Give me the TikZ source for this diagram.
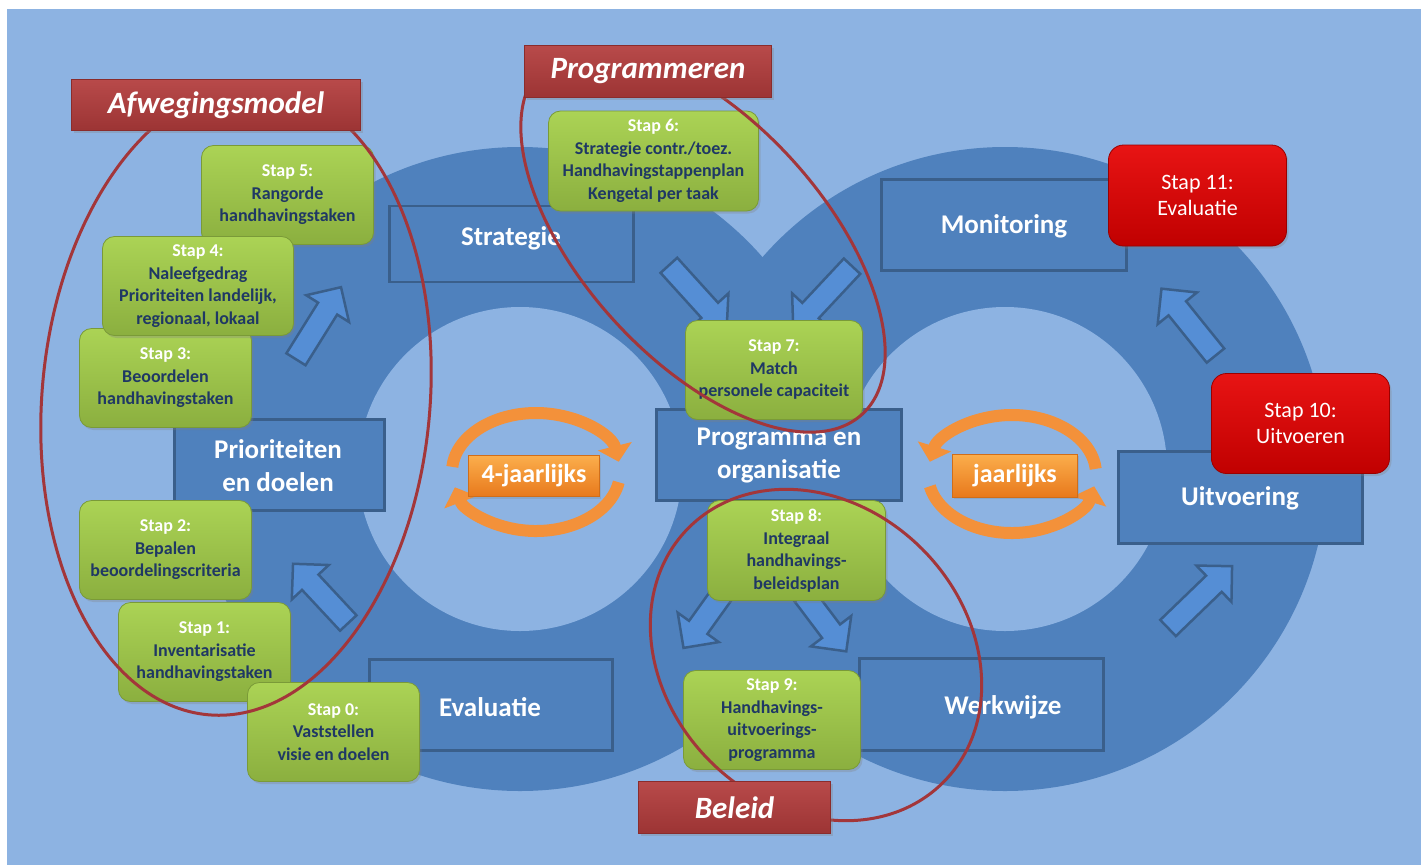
\documentclass[tikz,border=0pt]{standalone}
\usepackage{fontspec}
\setmainfont{Carlito}
\usetikzlibrary{shapes.arrows,shadows,arrows.meta}
\definecolor{bglight}{HTML}{8DB3E2}
\definecolor{ringblue}{HTML}{4F81BD}
\definecolor{boxborder}{HTML}{3A5F8B}
\definecolor{arrowfill}{HTML}{558ED5}
\definecolor{greentop}{HTML}{ABD355}
\definecolor{greenbot}{HTML}{8BAF3F}
\definecolor{greenline}{HTML}{7A9A38}
\definecolor{navytext}{HTML}{1F3864}
\definecolor{redtop}{HTML}{E81414}
\definecolor{redbot}{HTML}{C00000}
\definecolor{redline}{HTML}{9A0000}
\definecolor{labeltop}{HTML}{B84A4A}
\definecolor{labelbot}{HTML}{9C3434}
\definecolor{labelline}{HTML}{8A2C2C}
\definecolor{ellred}{HTML}{A3363A}
\definecolor{orangering}{HTML}{F3913A}
\definecolor{orangetop}{HTML}{FBAE4C}
\definecolor{orangebot}{HTML}{E8791C}
\definecolor{orangeline}{HTML}{D06E1A}
\newcommand\steplabel[1]{\textcolor{white}{#1}}
\tikzset{
  bluebox/.style={draw=boxborder, line width=2.5pt, fill=ringblue, inner sep=0pt},
  bluetext/.style={text=white, font=\bfseries\fontsize{27}{33}\selectfont, align=center, inner sep=0pt},
  greenbox/.style={rounded corners=12pt, draw=greenline, line width=0.8pt, top color=greentop, bottom color=greenbot,
    align=center, font=\bfseries\fontsize{18}{22.5}\selectfont, text=navytext, inner sep=0pt,
    drop shadow={opacity=0.3, shadow xshift=2pt, shadow yshift=-2.5pt}},
  redbox/.style={rounded corners=15pt, draw=redline, line width=0.8pt, top color=redtop, bottom color=redbot,
    align=center, font=\fontsize{22}{26.5}\selectfont, text=white, inner sep=0pt,
    drop shadow={opacity=0.3, shadow xshift=2pt, shadow yshift=-2.5pt}},
  labelbox/.style={draw=labelline, line width=1pt, top color=labeltop, bottom color=labelbot, text=white,
    font=\bfseries\itshape\fontsize{31}{36}\selectfont, inner sep=0pt,
    drop shadow={opacity=0.3, shadow xshift=2pt, shadow yshift=-2.5pt}},
  orangelabel/.style={draw=orangeline, line width=0.8pt, top color=orangetop, bottom color=orangebot, text=white,
    font=\bfseries\fontsize{26}{30}\selectfont, inner sep=0pt,
    drop shadow={opacity=0.25, shadow xshift=1.5pt, shadow yshift=-2pt}},
  orangearc/.style={draw=orangering, line width=12pt, -{Triangle[width=34pt,length=16pt]}},
  blockarr/.style={single arrow, draw=boxborder, fill=arrowfill, line width=2.5pt,
    inner xsep=0pt, inner ysep=10pt, single arrow head extend=14pt},
  ellline/.style={draw=ellred, line width=3pt}
}
\begin{document}
\begin{tikzpicture}[x=1pt,y=-1pt]
\useasboundingbox (0,0) rectangle (1421,865);
\fill[white] (0,0) rectangle (1421,865);
\fill[bglight] (7,9) rectangle (1421,865);
% figure-eight rings
\fill[ringblue] (520,469) circle [radius=322];
\fill[ringblue] (1005,469) circle [radius=322];
\fill[bglight] (520,469) circle [radius=162];
\fill[bglight] (1005,469) circle [radius=162];
% orange cycles
\draw[orangearc] (536,472) ++(185:84 and 59) arc[start angle=185, end angle=350, x radius=84, y radius=59];
\draw[orangearc] (536,472) ++(10:84 and 59) arc[start angle=10, end angle=165, x radius=84, y radius=59];
\node[orangelabel, minimum width=131pt, minimum height=41pt] (l4) at (534,476) {4-jaarlijks};
\draw[orangearc] (1012,474) ++(355:84 and 59) arc[start angle=355, end angle=192, x radius=84, y radius=59];
\draw[orangearc] (1012,474) ++(168:84 and 59) arc[start angle=168, end angle=12, x radius=84, y radius=59];
\node[orangelabel, minimum width=125pt, minimum height=43pt] (l1) at (1015,475.5) {jaarlijks};
% blue block arrows
\node[blockarr, minimum height=85pt, rotate=58] (a1) at (315.5,328) {};
\node[blockarr, minimum height=81pt, rotate=133] (a2) at (324.5,597.5) {};
\node[blockarr, minimum height=86pt, rotate=-47.8] (a3) at (694,293) {};
\node[blockarr, minimum height=86pt, rotate=-133.1] (a4) at (826.5,293.5) {};
\node[blockarr, minimum height=66pt, rotate=-125.6] (a5) at (706,616.5) {};
\node[blockarr, minimum height=71pt, rotate=-53] (a6) at (821.5,618.5) {};
\node[blockarr, minimum height=86pt, rotate=128.9] (a7) at (1192,326.5) {};
\node[blockarr, minimum height=89pt, rotate=44] (a8) at (1196,601) {};
% blue boxes
\node[bluebox, minimum width=244pt, minimum height=76pt] (strat) at (511.5,244) {};
\node[bluetext] (stratT) at (511,238) {Strategie};
\node[bluebox, minimum width=245pt, minimum height=91pt] (monit) at (1004,225) {};
\node[bluetext] (monitT) at (1004,226) {Monitoring};
\node[bluebox, minimum width=210pt, minimum height=91pt] (prio) at (279.5,465) {};
\node[bluetext] (prioT) at (278,466) {Prioriteiten\\en doelen};
\node[bluebox, minimum width=245pt, minimum height=91pt] (prog) at (779,455) {};
\node[bluetext] (progT) at (779,456) {Programma en\\organisatie};
\node[bluebox, minimum width=244pt, minimum height=92pt] (uitv) at (1240.5,497.5) {};
\node[bluetext] (uitvT) at (1240,498) {Uitvoering};
\node[bluebox, minimum width=243pt, minimum height=91pt] (eval) at (491,705) {};
\node[bluetext] (evalT) at (490,707) {Evaluatie};
\node[bluebox, minimum width=244pt, minimum height=92pt] (werk) at (981.5,704.5) {};
\node[bluetext] (werkT) at (1003,707) {Werkwijze};
% green step boxes
\node[greenbox, minimum width=172pt, minimum height=99pt] (s5) at (287.5,195) {\steplabel{Stap 5:}\\Rangorde\\handhavingstaken};
\node[greenbox, minimum width=172pt, minimum height=99pt] (s3) at (165.5,378) {\steplabel{Stap 3:}\\Beoordelen\\handhavingstaken};
\node[greenbox, minimum width=191pt, minimum height=99pt] (s4) at (198,286) {\steplabel{Stap 4:}\\Naleefgedrag\\Prioriteiten landelijk,\\regionaal, lokaal};
\node[greenbox, minimum width=172pt, minimum height=99pt] (s2) at (165.5,550) {\steplabel{Stap 2:}\\Bepalen\\beoordelingscriteria};
\node[greenbox, minimum width=172pt, minimum height=99pt] (s1) at (204.5,652) {\steplabel{Stap 1:}\\Inventarisatie\\handhavingstaken};
\node[greenbox, minimum width=172pt, minimum height=99pt] (s0) at (333.5,732) {\steplabel{Stap 0:}\\Vaststellen\\visie en doelen};
\node[greenbox, minimum width=210pt, minimum height=100pt] (s6) at (653.5,161) {\steplabel{Stap 6:}\\Strategie contr./toez.\\Handhavingstappenplan\\Kengetal per taak};
\node[greenbox, minimum width=177pt, minimum height=99pt] (s7) at (774,370) {\steplabel{Stap 7:}\\Match\\personele capaciteit};
\node[greenbox, minimum width=178pt, minimum height=100pt] (s8) at (796.5,550.5) {\steplabel{Stap 8:}\\Integraal\\handhavings-\\beleidsplan};
\node[greenbox, minimum width=177pt, minimum height=99pt] (s9) at (772,720) {\steplabel{Stap 9:}\\Handhavings-\\uitvoerings-\\programma};
% red step boxes
\node[redbox, minimum width=178pt, minimum height=101pt] (s11) at (1197.5,195.5) {Stap 11:\\Evaluatie};
\node[redbox, minimum width=178pt, minimum height=100pt] (s10) at (1300.5,423.5) {Stap 10:\\Uitvoeren};
% red ellipses
\draw[ellline, shift={(236,400)}, rotate=-5] (0,0) ellipse [x radius=194, y radius=316];
\draw[ellline, shift={(703,240)}, rotate=-47.6] (0,0) ellipse [x radius=236, y radius=120];
\draw[ellline, shift={(816,655)}, rotate=-45] (0,0) ellipse [x radius=180, y radius=150];
% label boxes
\node[labelbox, minimum width=289pt, minimum height=51pt] (afw) at (216,105) {Afwegingsmodel};
\node[labelbox, minimum width=247pt, minimum height=52pt] (progr) at (648,71.5) {Programmeren};
\node[labelbox, minimum width=192pt, minimum height=52pt] (bel) at (734.5,807.5) {Beleid};
\end{tikzpicture}
\end{document}
